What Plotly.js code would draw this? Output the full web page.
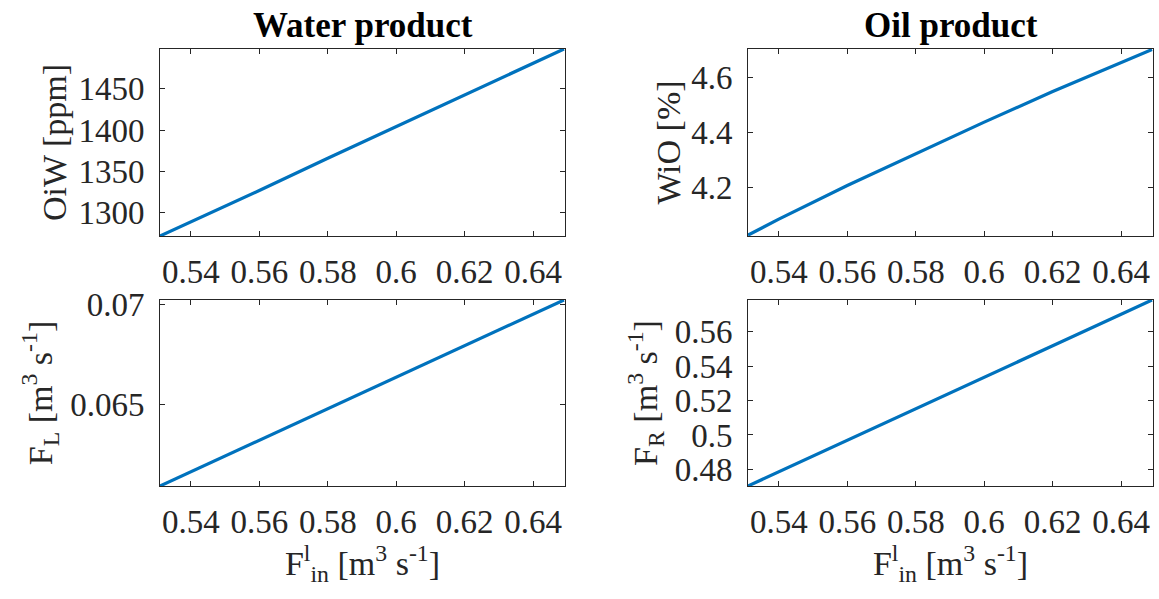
<!DOCTYPE html>
<html>
<head>
<meta charset="utf-8">
<script src="https://cdn.plot.ly/plotly-3.0.1.min.js"></script>
<style>html,body{margin:0;padding:0;background:#fff;}#plot{width:1159px;height:599px;}</style>
</head>
<body>
<div id="plot"></div>
<script>
// Inlet flow (x) values
const flowIn = [0.531, 0.54, 0.56, 0.58, 0.60, 0.62, 0.64, 0.649];
// Water product
const oiw = [1272, 1289, 1327, 1366, 1404, 1442, 1481, 1498];
const fL = [0.0609, 0.06161, 0.06319, 0.06476, 0.06634, 0.06792, 0.06949, 0.0702];
// Oil product
const wio = [4.027, 4.085, 4.207, 4.323, 4.437, 4.548, 4.654, 4.700];
const fR = [0.4703, 0.4785, 0.4969, 0.5152, 0.5336, 0.5519, 0.5702, 0.5785];

const xTicks = [0.54, 0.56, 0.58, 0.6, 0.62, 0.64];
const xTickText = ['0.54', '0.56', '0.58', '0.6', '0.62', '0.64'];
const oiwTicks = [1300, 1350, 1400, 1450];
const wioTicks = [4.2, 4.4, 4.6];
const wioTickText = ['4.2', '4.4', '4.6'];
const fLTicks = [0.065, 0.07];
const fLTickText = ['0.065', '0.07'];
const fRTicks = [0.48, 0.5, 0.52, 0.54, 0.56];
const fRTickText = ['0.48', '0.5', '0.52', '0.54', '0.56'];

const subplotTitles = ['Water product', 'Oil product'];
const xTitle = 'F<sup>l</sup><sub>in</sub> [m<sup>3</sup> s<sup>-1</sup>]';

const lineStyle = {color: '#0072BD', width: 3.2};
const traces = [
  {x: flowIn, y: oiw, xaxis: 'x', yaxis: 'y', mode: 'lines', line: lineStyle},
  {x: flowIn, y: wio, xaxis: 'x2', yaxis: 'y2', mode: 'lines', line: lineStyle},
  {x: flowIn, y: fL, xaxis: 'x3', yaxis: 'y3', mode: 'lines', line: lineStyle},
  {x: flowIn, y: fR, xaxis: 'x4', yaxis: 'y4', mode: 'lines', line: lineStyle}
];

const fontFam = 'Liberation Serif, Times New Roman, serif';
const tickColor = '#262626';
const tickSize = 33;
const titleSize = 34;
function xa(domain, anchor, withTitle) {
  const o = {
    domain: domain, anchor: anchor, range: [0.531, 0.6493],
    tickmode: 'array', tickvals: xTicks, ticktext: xTickText,
    ticks: 'inside', ticklen: 5, tickcolor: tickColor, tickwidth: 1,
    ticklabelstandoff: 6,
    showline: true, linecolor: tickColor, linewidth: 1, mirror: 'ticks',
    showgrid: false, zeroline: false,
    tickfont: {family: fontFam, size: tickSize, color: tickColor}
  };
  if (withTitle) o.title = {text: xTitle, font: {family: fontFam, size: titleSize, color: tickColor}, standoff: 12};
  return o;
}
function ya(domain, anchor, range, tv, tt, title, standoff) {
  return {
    domain: domain, anchor: anchor, range: range,
    tickmode: 'array', tickvals: tv, ticktext: tt,
    ticks: 'inside', ticklen: 5, tickcolor: tickColor, tickwidth: 1,
    ticklabelstandoff: 8,
    showline: true, linecolor: tickColor, linewidth: 1, mirror: 'ticks',
    showgrid: false, zeroline: false,
    tickfont: {family: fontFam, size: tickSize, color: tickColor},
    title: {text: title, font: {family: fontFam, size: titleSize, color: tickColor}, standoff: standoff}
  };
}
const dLeft = [160/1159, 565/1159];
const dRight = [748/1159, 1153/1159];
const dTop = [1 - 236/599, 1 - 49/599];
const dBot = [1 - 486/599, 1 - 300/599];

const layout = {
  width: 1159, height: 599,
  margin: {l: 0, r: 0, t: 0, b: 0},
  paper_bgcolor: '#ffffff', plot_bgcolor: '#ffffff',
  showlegend: false,
  font: {family: fontFam, color: tickColor},
  xaxis: xa(dLeft, 'y', false),
  xaxis2: xa(dRight, 'y2', false),
  xaxis3: xa(dLeft, 'y3', true),
  xaxis4: xa(dRight, 'y4', true),
  yaxis: ya(dTop, 'x', [1272, 1498], oiwTicks, oiwTicks.map(String), 'OiW [ppm]', 1),
  yaxis2: ya(dTop, 'x2', [4.024, 4.702], wioTicks, wioTickText, 'WiO [%]', 0),
  yaxis3: ya(dBot, 'x3', [0.0609, 0.0702], fLTicks, fLTickText, 'F<sub>L</sub> [m<sup>3</sup> s<sup>-1</sup>]', 7),
  yaxis4: ya(dBot, 'x4', [0.4703, 0.5785], fRTicks, fRTickText, 'F<sub>R</sub> [m<sup>3</sup> s<sup>-1</sup>]', 6),
  annotations: [
    {text: '<b>' + subplotTitles[0] + '</b>', xref: 'paper', yref: 'paper', x: (dLeft[0] + dLeft[1]) / 2, y: 1 - 25/599, showarrow: false, font: {family: fontFam, size: 35, color: '#000'}, xanchor: 'center', yanchor: 'middle'},
    {text: '<b>' + subplotTitles[1] + '</b>', xref: 'paper', yref: 'paper', x: (dRight[0] + dRight[1]) / 2, y: 1 - 25/599, showarrow: false, font: {family: fontFam, size: 35, color: '#000'}, xanchor: 'center', yanchor: 'middle'}
  ]
};
Plotly.newPlot('plot', traces, layout, {displayModeBar: false, staticPlot: true});
</script>
</body>
</html>
